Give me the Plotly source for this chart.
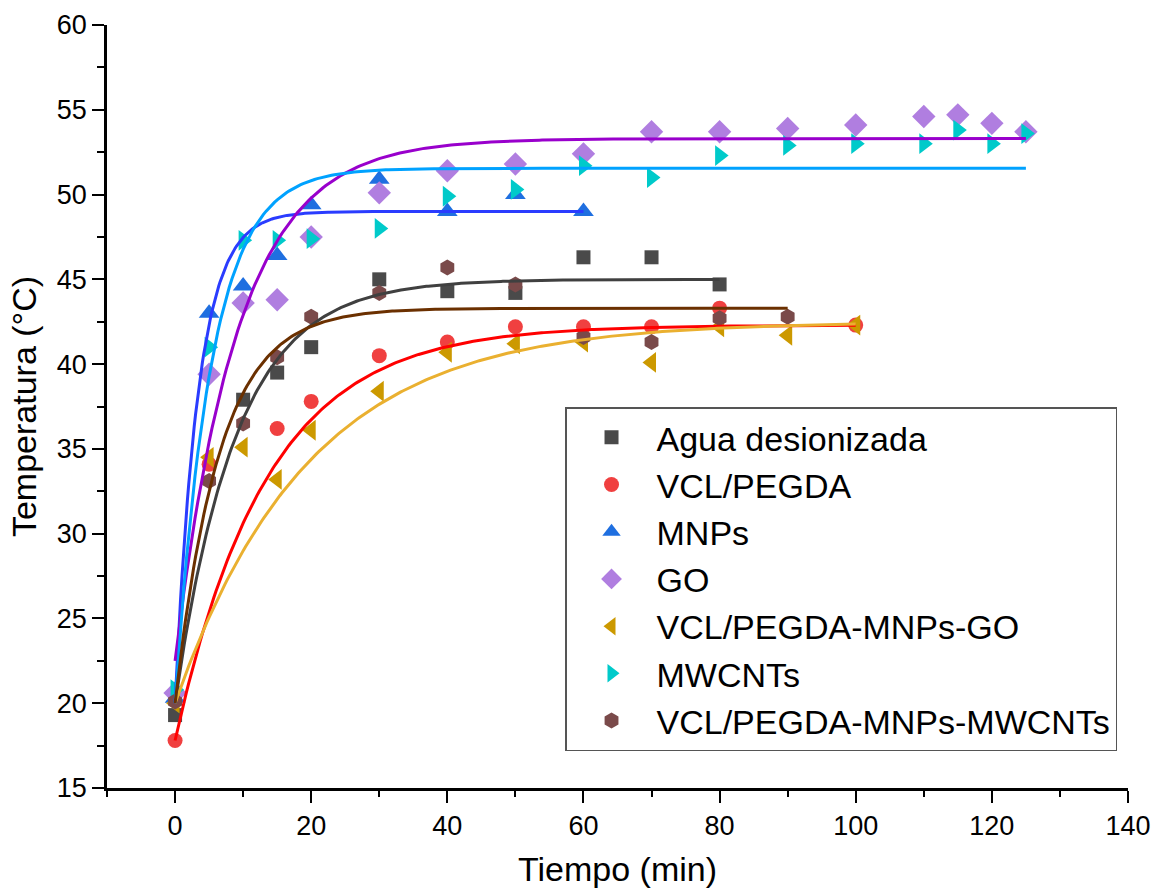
import numpy as np
import plotly.graph_objects as go

# ---- data ----
names = ["Agua desionizada", "VCL/PEGDA", "MNPs", "GO",
         "VCL/PEGDA-MNPs-GO", "MWCNTs", "VCL/PEGDA-MNPs-MWCNTs"]

agua_t = [0, 10, 15, 20, 30, 40, 50, 60, 70, 80]
agua_T = [19.3, 37.9, 39.5, 41.0, 45.0, 44.3, 44.2, 46.3, 46.3, 44.7]

vcl_t = [0, 5, 15, 20, 30, 40, 50, 60, 70, 80, 100]
vcl_T = [17.8, 34.1, 36.2, 37.8, 40.5, 41.3, 42.2, 42.2, 42.2, 43.3, 42.3]

mnp_t = [0, 5, 10, 15, 20, 30, 40, 50, 60]
mnp_T = [20.3, 43.0, 44.6, 46.4, 49.4, 50.9, 49.0, 50.0, 49.0]

go_t = [0, 5, 10, 15, 20, 30, 40, 50, 60, 70, 80, 90, 100, 110, 115, 120, 125]
go_T = [20.6, 39.4, 43.6, 43.8, 47.5, 50.1, 51.4, 51.8, 52.4, 53.7, 53.7, 53.9, 54.1, 54.6, 54.7, 54.2, 53.7]

mgo_t = [0, 5, 10, 15, 20, 30, 40, 50, 60, 70, 80, 90, 100]
mgo_T = [20.0, 34.5, 35.1, 33.2, 36.1, 38.4, 40.7, 41.2, 41.3, 40.1, 42.2, 41.7, 42.3]

mw_t = [0, 5, 10, 15, 20, 30, 40, 50, 60, 70, 80, 90, 100, 110, 115, 120, 125]
mw_T = [20.8, 41.0, 47.3, 47.3, 47.4, 48.0, 49.9, 50.3, 51.7, 51.0, 52.3, 52.9, 53.0, 53.0, 53.8, 53.0, 53.6]

mmw_t = [0, 5, 10, 15, 20, 30, 40, 50, 60, 70, 80, 90]
mmw_T = [20.1, 33.1, 36.5, 40.4, 42.8, 44.2, 45.7, 44.7, 41.6, 41.3, 42.7, 42.8]

# exponential fit parameters: start, plateau, time constant, end time
fit_T0 = [20.0, 17.8, 20.0, 22.5, 20.0, 20.0, 20.0]
fit_Tinf = [45.0, 42.3, 49.0, 53.3, 42.5, 51.55, 43.3]
fit_tau = [9.0, 13.5, 3.4, 9.2, 19.6, 5.3, 6.5]
fit_end = [80, 100, 60, 125, 100, 125, 90]

# ---- styles ----
marker_colors = ["#4a4a4a", "#f04040", "#1f6fe0", "#b07ee0", "#cc9900", "#00caca", "#7a4a4a"]
line_colors = ["#404040", "#ff0000", "#2a3cff", "#9900cc", "#eab030", "#00a2ff", "#6b3000"]
symbols = ["square", "circle", "triangle-up", "diamond", "triangle-left", "triangle-right", "hexagon"]
sizes = [14, 15, 18, 18, 18, 18, 16]

series = [(agua_t, agua_T), (vcl_t, vcl_T), (mnp_t, mnp_T), (go_t, go_T),
          (mgo_t, mgo_T), (mw_t, mw_T), (mmw_t, mmw_T)]

fig = go.Figure()
for i, (t, T) in enumerate(series):
    fig.add_trace(go.Scatter(
        x=t, y=T, mode="markers", name=names[i],
        marker=dict(symbol=symbols[i], size=sizes[i], color=marker_colors[i],
                    line=dict(width=0)),
    ))

for i in range(len(names)):
    tt = np.linspace(0, fit_end[i], 300)
    yy = fit_Tinf[i] - (fit_Tinf[i] - fit_T0[i]) * np.exp(-tt / fit_tau[i])
    fig.add_trace(go.Scatter(
        x=tt, y=yy, mode="lines", showlegend=False, hoverinfo="skip",
        line=dict(color=line_colors[i], width=3),
    ))

font_family = "Liberation Sans, Arial, sans-serif"

fig.update_layout(
    width=1159, height=892,
    margin=dict(l=107, r=31, t=25, b=104, autoexpand=False),
    paper_bgcolor="white", plot_bgcolor="white",
    font=dict(family=font_family, color="black"),
    showlegend=True,
    legend=dict(
        x=0.4486, y=0.499, xanchor="left", yanchor="top",
        xref="paper", yref="paper",
        bordercolor="#555555", borderwidth=1.5, bgcolor="white",
        font=dict(size=34, family=font_family, color="black"),
        itemwidth=80, tracegroupgap=0,
    ),
    xaxis=dict(
        range=[-10, 140], dtick=20, tick0=0, automargin=False,
        showgrid=False, zeroline=False,
        showline=True, linecolor="black", linewidth=2.5,
        ticks="outside", ticklen=12, tickwidth=2, tickcolor="black",
        tickfont=dict(size=27, family=font_family),
        minor=dict(dtick=10, tick0=0, ticks="outside", ticklen=6, tickwidth=2, tickcolor="black"),
        title=dict(text="Tiempo (min)", font=dict(size=34, family=font_family), standoff=18),
    ),
    yaxis=dict(
        range=[15, 60], dtick=5, tick0=15, automargin=False,
        showgrid=False, zeroline=False,
        showline=True, linecolor="black", linewidth=2.5,
        ticks="outside", ticklen=12, tickwidth=2, tickcolor="black",
        tickfont=dict(size=27, family=font_family),
        minor=dict(dtick=2.5, tick0=15, ticks="outside", ticklen=7, tickwidth=2, tickcolor="black"),
        title=dict(text="Temperatura (°C)", font=dict(size=34, family=font_family), standoff=10),
    ),
)

fig.write_html("out.html")
